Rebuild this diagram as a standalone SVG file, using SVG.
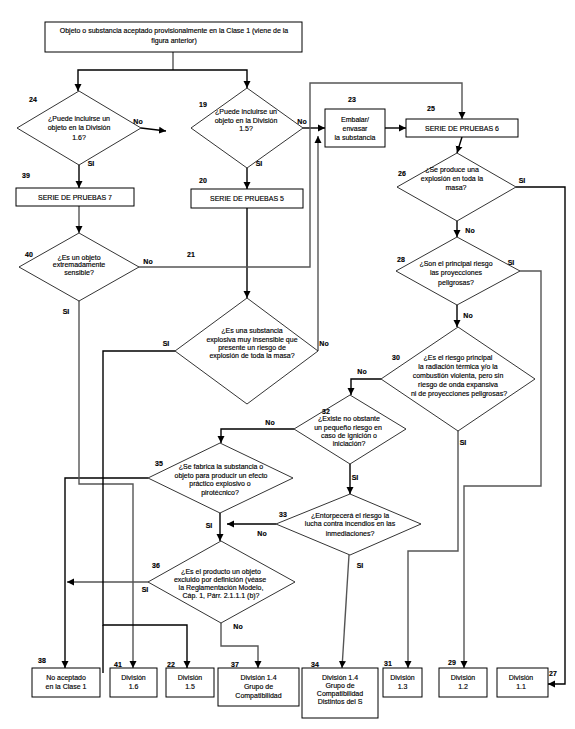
<svg xmlns="http://www.w3.org/2000/svg" width="575" height="729" viewBox="0 0 575 729">
<style>
text{font-family:"Liberation Sans",Arial,sans-serif;font-size:7px;fill:#000;stroke:#000;stroke-width:0.15}
.t{text-anchor:middle}
.n{font-weight:bold}
.box{fill:#fff;stroke:#000;stroke-width:1}
.dia{fill:#fff;stroke:#000;stroke-width:0.8}
.c{fill:none;stroke:#000;stroke-width:1.4}
.g{fill:none;stroke:#555;stroke-width:1.4}
.ca{marker-end:url(#ab)}
.ga{marker-end:url(#ag)}
</style>
<defs>
<marker id="ab" markerUnits="userSpaceOnUse" markerWidth="8" markerHeight="8" refX="7" refY="4" orient="auto"><path d="M0,0.5 L7,4 L0,7.5 z" fill="#000"/></marker>
<marker id="ag" markerUnits="userSpaceOnUse" markerWidth="8" markerHeight="8" refX="7" refY="4" orient="auto"><path d="M0,0.5 L7,4 L0,7.5 z" fill="#000"/></marker>
</defs>
<rect width="575" height="729" fill="#fff"/>

<g id="connectors">
<path class="g" d="M173,52 V70"/>
<path class="c ca" d="M173,70 H78 V91"/>
<path class="c ca" d="M173,70 H247 V88"/>
<path class="c ca" d="M141,128 L166,131"/>
<path class="c ca" d="M79,165 V188"/>
<path class="c ca" d="M247,168 V189"/>
<path class="c ca" d="M303,128 H325"/>
<path class="c ca" d="M385,128 H406"/>
<path class="g ga" d="M79,206 V233"/>
<path class="c ca" d="M247,208 V298"/>
<path class="g ga" d="M139,267 H310 V83 H462 V119"/>
<path class="g ga" d="M318,351 V136"/>
<path class="c ca" d="M462,137 L457,153"/>
<path class="c ca" d="M457,221 V237"/>
<path class="c ca" d="M516,187 H565 V684 H548"/>
<path class="c ca" d="M457,305 V327"/>
<path class="g ga" d="M520,271 H541 V486 H464 V668"/>
<path class="g ga" d="M458,431 V551 H408 V668"/>
<path class="c ca" d="M381,379 H351 V395"/>
<path class="c ca" d="M294,429 H221 V443"/>
<path class="c ca" d="M350,464 V494"/>
<path class="c ca" d="M276,524 H227"/>
<path class="g ga" d="M349,555 L342,668"/>
<path class="c ca" d="M220,513 V541"/>
<path class="c ca" d="M148,478 H65 V668"/>
<path class="g ga" d="M148,582 H67"/>
<path class="g ga" d="M221,623 V646 H258 V668"/>
<path class="g ga" d="M79,301 V484 H133 V668"/>
<path class="c ca" d="M175,351 H103 V625 H187 V668"/>
<path class="c" d="M103,625 V673"/>
<text x="138" y="123.5" class="t n">No</text>
<text x="302" y="123.5" class="t n">No</text>
<text x="91" y="165.5" class="t n">SI</text>
<text x="259" y="165.5" class="t n">SI</text>
<text x="522" y="182.5" class="t n">SI</text>
<text x="470" y="232.5" class="t n">No</text>
<text x="511" y="264.5" class="t n">SI</text>
<text x="468" y="317.5" class="t n">No</text>
<text x="362" y="373.5" class="t n">No</text>
<text x="463" y="444.5" class="t n">SI</text>
<text x="270" y="424.5" class="t n">No</text>
<text x="355" y="479.5" class="t n">SI</text>
<text x="262" y="535.5" class="t n">No</text>
<text x="360" y="567.5" class="t n">SI</text>
<text x="209" y="527.5" class="t n">SI</text>
<text x="145" y="591.5" class="t n">SI</text>
<text x="238" y="628.5" class="t n">No</text>
<text x="148" y="263.5" class="t n">No</text>
<text x="66" y="313.5" class="t n">SI</text>
<text x="166" y="346" class="t n">SI</text>
<text x="324" y="345.5" class="t n">No</text>
</g>

<g id="n-start">
<rect class="box" x="45" y="22" width="257" height="30"/>
<text x="174" y="33" class="t">Objeto o substancia aceptado provisionalmente en la Clase 1 (viene de la</text>
<text x="174" y="42.5" class="t">figura anterior)</text>
</g>

<g id="n24">
<polygon class="dia" points="79,91 141,128 79,165 17,128"/>
<text x="29" y="101.5" class="n">24</text>
<text x="79" y="120.5" class="t">¿Puede incluirse un</text>
<text x="79" y="130" class="t">objeto en la División</text>
<text x="79" y="139.5" class="t">1.6?</text>
</g>

<g id="n19">
<polygon class="dia" points="247,88 303,128 247,168 191,128"/>
<text x="199" y="106.5" class="n">19</text>
<text x="246" y="114" class="t">¿Puede incluirse un</text>
<text x="246" y="122.5" class="t">objeto en la División</text>
<text x="246" y="131" class="t">1.5?</text>
</g>

<g id="n23">
<rect class="box" x="325" y="109" width="60" height="38"/>
<text x="348" y="101.5" class="n">23</text>
<text x="355" y="122" class="t">Embalar/</text>
<text x="355" y="131" class="t">envasar</text>
<text x="355" y="140" class="t">la substancia</text>
</g>

<g id="n25">
<rect class="box" x="406" y="119" width="112" height="18"/>
<text x="427" y="110.5" class="n">25</text>
<text x="462" y="131" class="t">SERIE DE PRUEBAS 6</text>
</g>

<g id="n39">
<rect class="box" x="16" y="188" width="118" height="18"/>
<text x="22" y="177.5" class="n">39</text>
<text x="75" y="199.5" class="t">SERIE DE PRUEBAS 7</text>
</g>

<g id="n20">
<rect class="box" x="191" y="189" width="112" height="19"/>
<text x="199" y="182.5" class="n">20</text>
<text x="247" y="201" class="t">SERIE DE PRUEBAS 5</text>
</g>

<g id="n26">
<polygon class="dia" points="457,153 516,187 457,221 397,187"/>
<text x="398" y="176" class="n">26</text>
<text x="452" y="171.5" class="t">¿Se produce una</text>
<text x="452" y="180.5" class="t">explosión en toda la</text>
<text x="456" y="189.5" class="t">masa?</text>
</g>

<g id="n40">
<polygon class="dia" points="79,233 139,267 79,301 19,267"/>
<text x="25" y="256.5" class="n">40</text>
<text x="79" y="259.5" class="t">¿Es un objeto</text>
<text x="79" y="267" class="t">extremadamente</text>
<text x="79" y="274.5" class="t">sensible?</text>
</g>

<g id="n21">
<polygon class="dia" points="247,298 318,351 247,404 175,351"/>
<text x="187" y="257" class="n">21</text>
<text x="252" y="333" class="t">¿Es una substancia</text>
<text x="252" y="341.5" class="t">explosiva muy insensible que</text>
<text x="252" y="349.5" class="t">presente un riesgo de</text>
<text x="252" y="358" class="t">explosión de toda la masa?</text>
</g>

<g id="n28">
<polygon class="dia" points="457,237 520,271 457,305 396,271"/>
<text x="397" y="261.5" class="n">28</text>
<text x="456" y="265.5" class="t">¿Son el principal riesgo</text>
<text x="456" y="275" class="t">las proyecciones</text>
<text x="456" y="284.5" class="t">peligrosas?</text>
</g>

<g id="n30">
<polygon class="dia" points="458,327 535,379 458,431 381,379"/>
<text x="392" y="359.5" class="n">30</text>
<text x="458" y="359.5" class="t">¿Es el riesgo principal</text>
<text x="458" y="368.5" class="t">la radiación térmica y/o la</text>
<text x="458" y="377.5" class="t">combustión violenta, pero sin</text>
<text x="458" y="386.5" class="t">riesgo de onda expansiva</text>
<text x="459" y="395.5" class="t">ni de proyecciones peligrosas?</text>
</g>

<g id="n32">
<polygon class="dia" points="350,395 406,429 350,464 294,429"/>
<text x="322" y="413.5" class="n">32</text>
<text x="349" y="420.5" class="t">¿Existe no obstante</text>
<text x="348" y="429.5" class="t">un pequeño riesgo en</text>
<text x="349" y="437.5" class="t">caso de ignición o</text>
<text x="349" y="445.5" class="t">iniciación?</text>
</g>

<g id="n35">
<polygon class="dia" points="220,443 293,478 220,513 148,478"/>
<text x="155" y="465.5" class="n">35</text>
<text x="221" y="468.5" class="t">¿Se fabrica la substancia o</text>
<text x="221" y="477.5" class="t">objeto para producir un efecto</text>
<text x="220" y="485.5" class="t">práctico explosivo o</text>
<text x="220" y="494.5" class="t">pirotécnico?</text>
</g>

<g id="n33">
<polygon class="dia" points="350,494 421,524 350,555 276,524"/>
<text x="279" y="516.5" class="n">33</text>
<text x="350" y="517.5" class="t">¿Entorpecerá el riesgo la</text>
<text x="350" y="526" class="t">lucha contra incendios en las</text>
<text x="350" y="535.5" class="t">inmediaciones?</text>
</g>

<g id="n36">
<polygon class="dia" points="221,541 295,582 221,623 148,582"/>
<text x="152" y="567.5" class="n">36</text>
<text x="221" y="573.5" class="t">¿Es el producto un objeto</text>
<text x="220" y="581.5" class="t">excluido por definición (véase</text>
<text x="221" y="589.5" class="t">la Reglamentación Modelo,</text>
<text x="221" y="597.5" class="t">Cáp. 1, Párr. 2.1.1.1 (b)?</text>
</g>

<g id="n38">
<rect class="box" x="32" y="668" width="68" height="29"/>
<text x="38" y="662.5" class="n">38</text>
<text x="66" y="679.5" class="t">No aceptado</text>
<text x="66" y="688.5" class="t">en la Clase 1</text>
</g>

<g id="n41">
<rect class="box" x="110" y="668" width="47" height="29"/>
<text x="114" y="666.5" class="n">41</text>
<text x="133.5" y="679.5" class="t">División</text>
<text x="133.5" y="688.5" class="t">1.6</text>
</g>

<g id="n22">
<rect class="box" x="166" y="668" width="48" height="29"/>
<text x="167" y="666.5" class="n">22</text>
<text x="190" y="679.5" class="t">División</text>
<text x="190" y="688.5" class="t">1.5</text>
</g>

<g id="n37">
<rect class="box" x="218" y="668" width="81" height="38"/>
<text x="231" y="666.5" class="n">37</text>
<text x="258.5" y="679.5" class="t">División 1.4</text>
<text x="258.5" y="688.5" class="t">Grupo de</text>
<text x="258.5" y="697.5" class="t">Compatibilidad</text>
</g>

<g id="n34">
<rect class="box" x="302" y="668" width="76" height="50"/>
<text x="311" y="666.5" class="n">34</text>
<text x="340" y="679.5" class="t">División 1.4</text>
<text x="340" y="687.5" class="t">Grupo de</text>
<text x="340" y="695.5" class="t">Compatibilidad</text>
<text x="340" y="703.5" class="t">Distintos del S</text>
</g>

<g id="n31">
<rect class="box" x="383" y="668" width="39" height="29"/>
<text x="384" y="665.5" class="n">31</text>
<text x="402.5" y="679.5" class="t">División</text>
<text x="402.5" y="688.5" class="t">1.3</text>
</g>

<g id="n29">
<rect class="box" x="439" y="668" width="48" height="29"/>
<text x="448" y="664.5" class="n">29</text>
<text x="463" y="679.5" class="t">División</text>
<text x="463" y="688.5" class="t">1.2</text>
</g>

<g id="n27">
<rect class="box" x="497" y="668" width="51" height="29"/>
<text x="549" y="675.5" class="n">27</text>
<text x="521" y="679.5" class="t">División</text>
<text x="521" y="688.5" class="t">1.1</text>
</g>
</svg>
